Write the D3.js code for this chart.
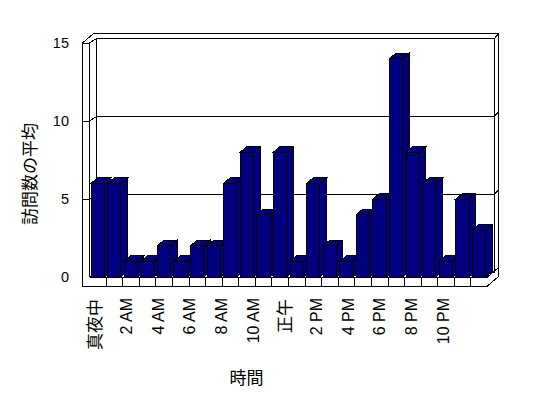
<!DOCTYPE html>
<html>
<head>
<meta charset="utf-8">
<script src="https://cdn.jsdelivr.net/npm/d3@7"></script>
<style>
  body { margin: 0; background: #fff; }
  svg { display: block; }
  text { fill: #000; }
  .frame, .bar { shape-rendering: crispEdges; }
</style>
</head>
<body>
<div id="chart"></div>
<script>
// Hours of the day (category axis)
const hours = [
    "真夜中", "1 AM", "2 AM", "3 AM", "4 AM", "5 AM", "6 AM", "7 AM",
    "8 AM", "9 AM", "10 AM", "11 AM", "正午", "1 PM", "2 PM", "3 PM",
    "4 PM", "5 PM", "6 PM", "7 PM", "8 PM", "9 PM", "10 PM", "11 PM"
];

// Average visits per hour
const visits = [6, 6, 1, 1, 2, 1, 2, 2, 6, 8, 4, 8, 1, 6, 2, 1, 4, 5, 14, 8, 6, 1, 5, 3];

// Only every other hour gets a label
const shownLabels = hours.filter((d, i) => i % 2 === 0);
const yTicks = [0, 5, 10, 15];

const yTitle = "訪問数の平均";
const xTitle = "時間";

// Layout
const width = 548, height = 398;
const depth = { dx: 7, dy: -4.5 };    // plot box depth
const wall = { dx: 4, dy: -5 };       // wall thickness
const barDepth = { dx: 6.5, dy: -5.5 };
const wallOuter = 82.5;               // outer face of left wall
const floorBottom = 286;

const x = d3.scaleBand().domain(hours).range([89.5, 487.5]);
const xLabel = d3.scaleBand().domain(hours).range([87, 467]);
const y = d3.scaleLinear().domain([0, 15]).range([277, 43]);

const svg = d3.select("#chart").append("svg")
    .attr("width", width)
    .attr("height", height);

svg.append("rect").attr("width", width).attr("height", height).attr("fill", "#fff");

const xl = x.range()[0], xr = x.range()[1];
const yTop = y(15), base = y(0);
const tdx = depth.dx + wall.dx, tdy = depth.dy + wall.dy;

const frame = svg.append("g").attr("class", "frame")
    .attr("fill", "none").attr("stroke", "#000").attr("stroke-width", 1);

// Outer silhouette of walls + floor
frame.append("path")
    .attr("fill", "#fff")
    .attr("d", `M${wallOuter},${yTop} L${wallOuter + tdx},${yTop + tdy} L${xr + tdx},${yTop + tdy}
        L${xr + tdx},${floorBottom + tdy} L${xr},${floorBottom} L${wallOuter},${floorBottom} Z`);

// Left wall front face + top edges
frame.append("path").attr("d", `M${wallOuter},${yTop} H${xl} V${base}`);
frame.append("path").attr("d",
    `M${xl},${yTop} L${xl + depth.dx},${yTop + depth.dy} H${xr + depth.dx} L${xr + tdx},${yTop + tdy}`);

// Back wall edges
frame.append("path").attr("d", `M${xl + depth.dx},${yTop + depth.dy} V${base + depth.dy}`);
frame.append("path").attr("d", `M${xr + depth.dx},${yTop + depth.dy} V${base + depth.dy}`);
frame.append("path").attr("d",
    `M${xl},${base} L${xl + depth.dx},${base + depth.dy} H${xr + depth.dx}`);

// Floor
frame.append("path").attr("d", `M${xl},${base} H${xr} L${xr + tdx},${base + tdy}`);
frame.selectAll(".divider")
    .data(hours.slice(1))
    .enter().append("line")
    .attr("x1", d => x(d)).attr("x2", d => x(d))
    .attr("y1", base).attr("y2", floorBottom);

// Gridlines on the walls
frame.selectAll(".grid")
    .data(yTicks.filter(d => d > 0 && d < 15))
    .enter().append("path")
    .attr("d", d => `M${wallOuter},${y(d)} H${xl} L${xl + depth.dx},${y(d) + depth.dy}
        H${xr + depth.dx} L${xr + tdx},${y(d) + tdy}`);

// Bars (left to right so each front face hides the previous side)
const bars = svg.append("g").attr("class", "bar")
    .attr("fill", "#000080").attr("stroke", "#000").attr("stroke-width", 1);

visits.forEach((v, i) => {
    const bx0 = x(hours[i]) + 1.5;
    const bx1 = bx0 + x.bandwidth() * 0.8;
    const by = y(v);
    bars.append("path").attr("d",
        `M${bx1},${by} L${bx1 + barDepth.dx},${by + barDepth.dy} V${base + barDepth.dy} L${bx1},${base} Z`);
    bars.append("path").attr("d",
        `M${bx0},${by} L${bx0 + barDepth.dx},${by + barDepth.dy} H${bx1 + barDepth.dx} L${bx1},${by} Z`);
    bars.append("rect")
        .attr("x", bx0).attr("y", by)
        .attr("width", bx1 - bx0).attr("height", base - by);
});

// Y tick labels
svg.selectAll(".ytick")
    .data(yTicks)
    .enter().append("text")
    .attr("x", 69)
    .attr("y", d => y(d))
    .attr("dy", "0.36em")
    .attr("text-anchor", "end")
    .style("font-family", "'Liberation Sans', Arial, sans-serif")
    .style("font-size", "14.5px")
    .text(d => d);

// X tick labels, rotated
const isCJK = s => /[^\x00-\x7F]/.test(s);
svg.selectAll(".xtick")
    .data(shownLabels)
    .enter().append("text")
    .attr("transform", d => {
        const cx = xLabel(d) + xLabel.bandwidth() / 2;
        return isCJK(d) ? `translate(${cx - 1},299) rotate(-90)` : `translate(${cx + 5.5},298) rotate(-90)`;
    })
    .attr("text-anchor", "end")
    .attr("dominant-baseline", d => isCJK(d) ? "central" : "auto")
    .style("font-family", d => isCJK(d) ? "'Noto Sans CJK JP', sans-serif" : "'Liberation Sans', Arial, sans-serif")
    .style("font-size", d => isCJK(d) ? "17px" : "16px")
    .text(d => d);

// Axis titles
svg.append("text")
    .attr("transform", "translate(28,174) rotate(-90)")
    .attr("text-anchor", "middle")
    .attr("dominant-baseline", "central")
    .style("font-family", "'Noto Sans CJK JP', sans-serif")
    .style("font-size", "17px")
    .text(yTitle);

svg.append("text")
    .attr("x", 246.5)
    .attr("y", 376)
    .attr("text-anchor", "middle")
    .attr("dominant-baseline", "central")
    .style("font-family", "'Noto Sans CJK JP', sans-serif")
    .style("font-size", "17px")
    .text(xTitle);
</script>
</body>
</html>
